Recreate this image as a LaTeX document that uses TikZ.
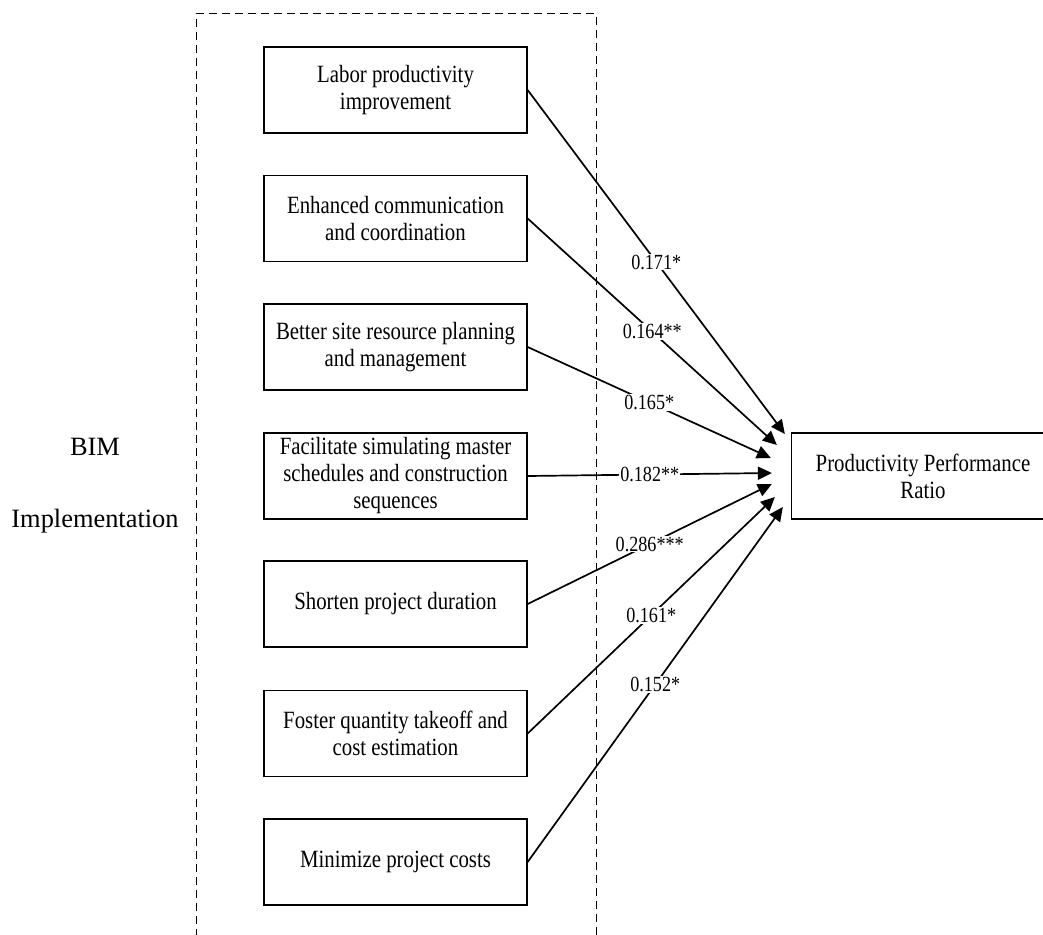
\documentclass[tikz,border=0pt]{standalone}
\usepackage{fontspec}
\setmainfont{Liberation Serif}
% a slightly condensed cut of the serif for the boxes and coefficients
\newfontfamily\narrowserif[FakeStretch=0.84]{Liberation Serif}
\usetikzlibrary{arrows.meta}
\tikzset{
  factor/.style={draw, line width=1.3pt, minimum width=263pt, minimum height=86pt,
    align=center, inner sep=0pt, font=\narrowserif\fontsize{24.8}{27}\selectfont},
  link/.style={line width=1.7pt, -{Triangle[length=14pt,width=13pt]}},
  coef/.style={fill=white, inner sep=1pt, font=\narrowserif\fontsize{21.6}{24}\selectfont},
  frame/.style={line width=1pt, dash pattern=on 8pt off 5pt}
}
\begin{document}
\begin{tikzpicture}[x=1pt, y=-1pt]
  \path[use as bounding box, clip] (0,0) rectangle (1043,934);

  % group outline, open at the bottom
  \draw[frame] (196,950) -- (196,14) -- (596,14) -- (596,950);

  % group label
  \node[font=\fontsize{26.4}{72}\selectfont, align=center] (bim) at (95,486)
    {BIM\\Implementation};

  % the seven factors
  \node[factor] (b1) at (395.5,90)  {Labor productivity\\improvement};
  \node[factor] (b2) at (395.5,218.5) {Enhanced communication\\and coordination};
  \node[factor] (b3) at (395.5,347) {Better site resource planning\\and management};
  \node[factor] (b4) at (395.5,476) {Facilitate simulating master\\schedules and construction\\sequences};
  \node[factor] (b5) at (395.5,604) {Shorten project duration};
  \node[factor] (b6) at (395.5,733.5) {Foster quantity takeoff and\\cost estimation};
  \node[factor] (b7) at (395.5,862) {Minimize project costs};

  % outcome
  \node[factor] (pp) at (923,476) {Productivity Performance\\Ratio};

  % paths with coefficients
  \draw[link] (b1.east) -- node[coef] {0.171*}   ([shift={(-6,-42)}]pp.west);
  \draw[link] (b2.east) -- node[coef] {0.164**}  ([shift={(-14,-31)}]pp.west);
  \draw[link] (b3.east) -- node[coef] {0.165*}   ([shift={(-20,-18)}]pp.west);
  \draw[link] (b4.east) -- node[coef] {0.182**}  ([shift={(-19,-3)}]pp.west);
  \draw[link] (b5.east) -- node[coef] {0.286***} ([shift={(-19,8)}]pp.west);
  \draw[link] (b6.east) -- node[coef] {0.161*}   ([shift={(-16,21)}]pp.west);
  \draw[link] (b7.east) -- node[coef] {0.152*}   ([shift={(-8,31)}]pp.west);
\end{tikzpicture}
\end{document}
